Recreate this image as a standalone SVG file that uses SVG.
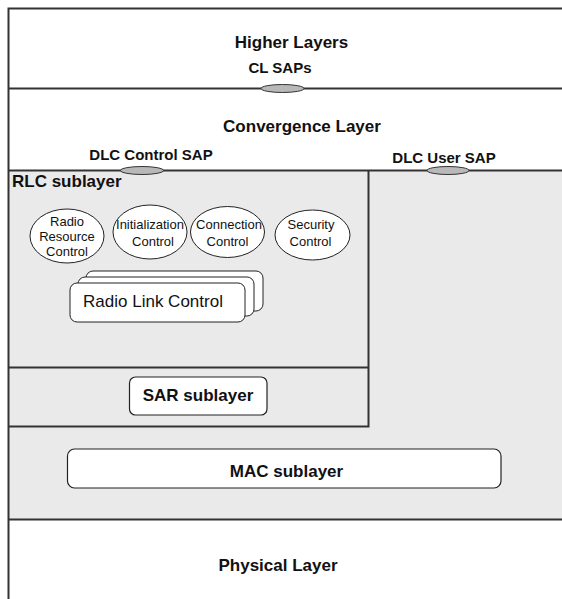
<svg xmlns="http://www.w3.org/2000/svg" width="562" height="599" viewBox="0 0 562 599">
  <style>
    .title { font-family: "Liberation Sans", Arial, sans-serif; font-weight: bold; font-size: 17px; fill: #111; text-anchor: middle; }
    .sap { font-family: "Liberation Sans", Arial, sans-serif; font-weight: bold; font-size: 15px; fill: #111; text-anchor: middle; }
    .small { font-family: "Liberation Sans", Arial, sans-serif; font-size: 13px; fill: #111; text-anchor: middle; }
    .rlc { font-family: "Liberation Sans", Arial, sans-serif; font-size: 17px; fill: #111; text-anchor: middle; }
    .frame { stroke: #333; stroke-width: 2; fill: none; }
    .box { fill: #fff; stroke: #222; stroke-width: 1.2; }
    .sapmark { fill: #b8b8b8; stroke: #333; stroke-width: 1; }
    .fn { fill: #fff; stroke: #222; stroke-width: 1; }
  </style>

  <!-- background and the shaded data link control area -->
  <rect x="0" y="0" width="562" height="599" fill="#fff"/>
  <rect x="8.5" y="170.5" width="554" height="349" fill="#eaeaea"/>

  <!-- layer boundaries -->
  <g id="frame">
    <path class="frame" d="M8.5 599 V8.5 H562"/>
    <path class="frame" d="M8.5 88.5 H562"/>
    <path class="frame" d="M8.5 170.5 H562"/>
    <path class="frame" d="M8.5 519.5 H562"/>
    <path class="frame" d="M368.5 170.5 V426.5 H8.5"/>
    <path class="frame" d="M8.5 367.5 H368.5"/>
  </g>

  <g id="higher-layers">
    <text class="title" x="291.5" y="48">Higher Layers</text>
  </g>

  <g id="cl-saps">
    <text class="sap" x="280" y="73">CL SAPs</text>
    <ellipse class="sapmark" cx="282.5" cy="88.5" rx="21.5" ry="4"/>
  </g>

  <g id="convergence-layer">
    <text class="title" x="302" y="132">Convergence Layer</text>
  </g>

  <g id="dlc-control-sap">
    <text class="sap" x="151" y="159.5">DLC Control SAP</text>
    <ellipse class="sapmark" cx="142" cy="170.5" rx="21.5" ry="4"/>
  </g>

  <g id="dlc-user-sap">
    <text class="sap" x="444" y="163">DLC User SAP</text>
    <ellipse class="sapmark" cx="448" cy="170.5" rx="21" ry="4"/>
  </g>

  <g id="rlc-sublayer">
    <text class="title" x="12" y="187" style="text-anchor:start">RLC sublayer</text>
  </g>

  <g id="radio-resource-control">
    <ellipse class="fn" cx="67" cy="236" rx="37" ry="27"/>
    <text class="small" x="67" y="226">Radio</text>
    <text class="small" x="67" y="241">Resource</text>
    <text class="small" x="67" y="256">Control</text>
  </g>

  <g id="initialization-control">
    <ellipse class="fn" cx="150" cy="232" rx="37" ry="27"/>
    <text class="small" x="150" y="229">Initialization</text>
    <text class="small" x="153" y="245.5">Control</text>
  </g>

  <g id="connection-control">
    <ellipse class="fn" cx="227.5" cy="232" rx="37" ry="25.5"/>
    <text class="small" x="229" y="229">Connection</text>
    <text class="small" x="227.5" y="245.5">Control</text>
  </g>

  <g id="security-control">
    <ellipse class="fn" cx="312.5" cy="235" rx="37.5" ry="25"/>
    <text class="small" x="311" y="229">Security</text>
    <text class="small" x="310.5" y="245.5">Control</text>
  </g>

  <g id="radio-link-control">
    <rect class="fn" x="86" y="271" width="177" height="40" rx="7"/>
    <rect class="fn" x="78" y="277" width="176" height="39" rx="7"/>
    <rect class="fn" x="70" y="283" width="175" height="39" rx="7"/>
    <text class="rlc" x="153" y="307">Radio Link Control</text>
  </g>

  <g id="sar-sublayer">
    <rect class="box" x="129.5" y="377" width="137.5" height="38" rx="6"/>
    <text class="title" x="198" y="401">SAR sublayer</text>
  </g>

  <g id="mac-sublayer">
    <rect class="box" x="67.5" y="449" width="433.5" height="39" rx="7"/>
    <text class="title" x="286.5" y="477">MAC sublayer</text>
  </g>

  <g id="physical-layer">
    <text class="title" x="278" y="571">Physical Layer</text>
  </g>
</svg>
